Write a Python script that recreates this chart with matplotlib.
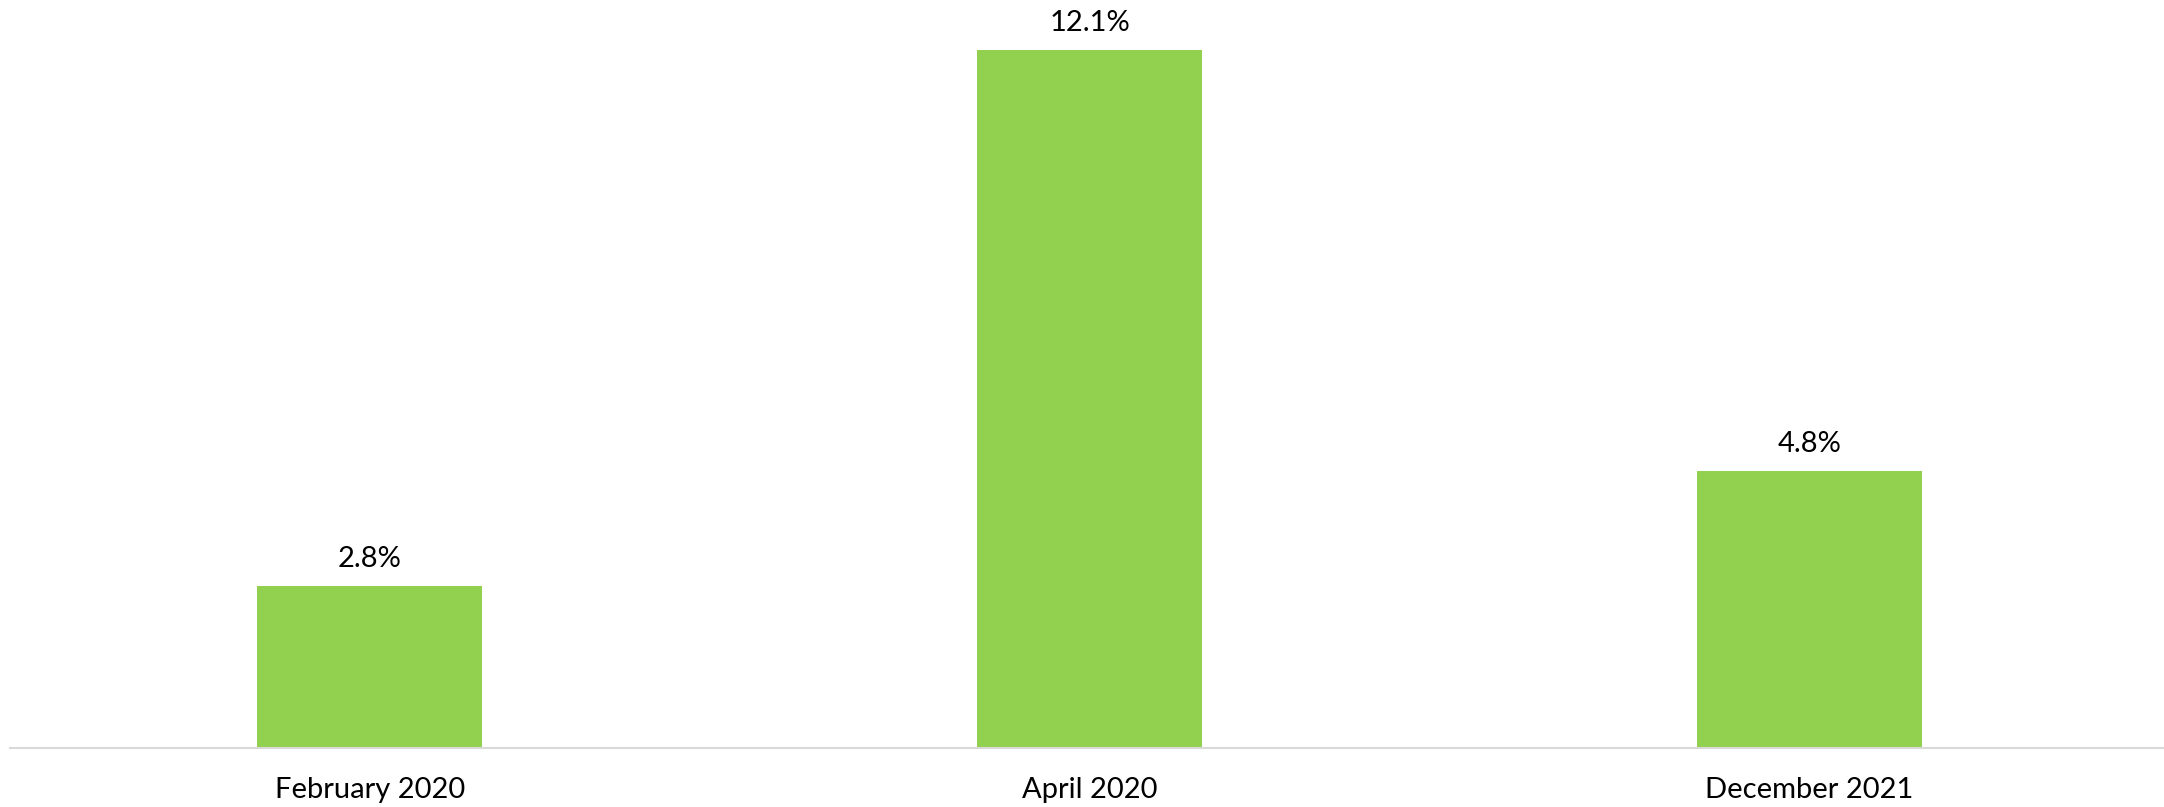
import matplotlib
matplotlib.use("Agg")
import matplotlib.pyplot as plt

categories = ["February 2020", "April 2020", "December 2021"]
values = [2.8, 12.1, 4.8]
value_labels = ["2.8%", "12.1%", "4.8%"]

W, H, DPI = 2164, 807, 100
fig = plt.figure(figsize=(W / DPI, H / DPI), dpi=DPI)
left = 10 / W
right = 2169 / W
bottom = (H - 748) / H
ax = fig.add_axes([left, bottom, right - left, 1 - bottom])

font = "Lato"
x = range(len(categories))
bars = ax.bar(x, values, width=0.3125, color="#92D050", zorder=2)
ax.set_xlim(-0.5, len(categories) - 0.5)
ax.set_ylim(0, 12.1 * 748 / 698)

for b, lab in zip(bars, value_labels):
    ax.annotate(lab, (b.get_x() + b.get_width() / 2, b.get_height()),
                xytext=(0, 14), textcoords="offset pixels", ha="center", va="bottom",
                fontsize=21, family=font, color="#000000")

ax.set_xticks(list(x))
ax.set_xticklabels(categories, fontsize=21, family=font, color="#000000")
ax.tick_params(axis="x", length=0, pad=21)
ax.set_yticks([])
for s in ["top", "right", "left"]:
    ax.spines[s].set_visible(False)
ax.spines["bottom"].set_color("#d9d9d9")
ax.spines["bottom"].set_linewidth(1.5)
ax.patch.set_visible(False)

fig.savefig("out.png", dpi=DPI, facecolor="white")
